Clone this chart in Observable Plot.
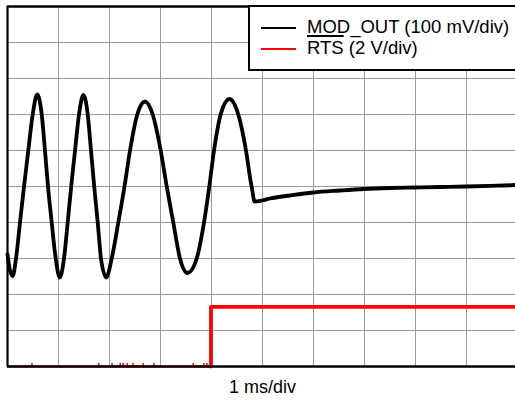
<!DOCTYPE html>
<html>
<head>
<meta charset="utf-8">
<script src="https://cdn.jsdelivr.net/npm/d3@7"></script>
<script src="https://cdn.jsdelivr.net/npm/@observablehq/plot@0.6"></script>
<style>
  html, body { margin: 0; padding: 0; background: #fff; overflow: hidden; }
  #wrap { position: relative; width: 520px; height: 400px; font-family: "Liberation Sans", Arial, sans-serif; }
  #wrap svg { display: block; position: absolute; left: 0; top: 0; }
  #legend { position: absolute; left: 248px; top: 5px; width: 300px; height: 66px; box-sizing: border-box;
            border: 2px solid #000; background: #fff; }
  .swatch { position: absolute; left: 11px; width: 35px; height: 2px; }
  .ltext { position: absolute; left: 57px; font-size: 18.5px; line-height: 18.5px; white-space: nowrap; color: #000; }
  .over { text-decoration: overline; text-decoration-thickness: 2px; }
  #xlabel { position: absolute; left: 0; width: 525px; top: 377.8px; text-align: center; font-size: 18px; line-height: 18px; color: #000; }
</style>
</head>
<body>
<div id="wrap"></div>
<script>
// Grid divisions (10 x 10 oscilloscope screen)
const gridDivs = [0, 1, 2, 3, 4, 5, 6, 7, 8, 9, 10];

// MOD_OUT trace: time (divisions, 1 ms/div) and level (divisions)
const modTimes = [
  0, 0.049, 0.102, 0.167, 0.245, 0.324, 0.408, 0.494, 0.584, 0.671, 0.735, 0.794, 0.867, 0.945,
  1.025, 1.108, 1.180, 1.249, 1.324, 1.402, 1.486, 1.573, 1.637, 1.700, 1.769, 1.833, 1.937,
  2.043, 2.173, 2.294, 2.402, 2.545, 2.696, 2.847, 3.004, 3.122, 3.251, 3.382, 3.529,
  3.710, 3.853, 3.957, 4.049, 4.180, 4.353, 4.525, 4.676, 4.765, 4.800, 4.843,
  4.990, 5.147, 5.539, 5.990, 6.520, 6.990, 7.500, 7.990, 8.480, 8.990, 9.461, 9.951, 10
];
const modLevels = [
  3.111, 2.667, 2.514, 3.0, 4.0, 5.0, 6.0, 7.0, 7.556, 7.0, 6.0, 5.0, 4.0, 3.0,
  2.472, 3.0, 4.0, 5.0, 6.0, 7.0, 7.542, 7.0, 6.0, 5.0, 4.0, 3.0, 2.472,
  3.0, 4.0, 5.0, 6.0, 7.0, 7.361, 7.0, 6.0, 5.0, 4.0, 3.0, 2.597,
  3.0, 4.0, 5.0, 6.0, 7.0, 7.431, 7.0, 6.0, 5.167, 4.889, 4.583,
  4.611, 4.667, 4.750, 4.833, 4.889, 4.931, 4.958, 4.972, 4.986, 5.0, 5.019, 5.042, 5.047
];

// RTS trace (active low), level in divisions
const rtsTimes = [0, 3.99, 3.99, 10];
const rtsLevels = [0, 0, 1.658, 1.658];
// small glitches seen on the low RTS level
const rtsGlitchTimes = [0.48, 1.79, 2.05, 2.21, 2.27, 2.35, 2.46, 2.66, 2.87, 3.64, 3.85, 3.91];

const legendEntries = [
  {label: "MOD_OUT (100 mV/div)", bar: "", color: "#000000"},
  {label: " (2 V/div)", bar: "RTS", color: "#ff0000"}
];
const xLabel = "1 ms/div";

const mod = modTimes.map((t, i) => ({t, v: modLevels[i]}));
const rts = rtsTimes.map((t, i) => ({t, v: rtsLevels[i]}));
const rtsLow = rts.slice(0, 2);   // low part, hidden under the axis line
const rtsHigh = rts.slice(1);     // rising edge and high part

const chart = Plot.plot({
  width: 520,
  height: 370,
  marginLeft: 7,
  marginRight: 3,
  marginTop: 6,
  marginBottom: 4,
  style: {background: "#fff", overflow: "hidden"},
  x: {domain: [0, 10], axis: null},
  y: {domain: [0, 10], axis: null},
  marks: [
    Plot.ruleX(gridDivs, {stroke: "#9a9a9a", strokeWidth: 1}),
    Plot.ruleY(gridDivs, {stroke: "#9a9a9a", strokeWidth: 1}),
    Plot.ruleX(rtsGlitchTimes, {y1: 0, y2: 0.08, stroke: "#ff0000", strokeWidth: 1.5}),
    Plot.line(rtsLow, {x: "t", y: "v", stroke: "#ff0000", strokeWidth: 2}),
    Plot.line(rtsHigh, {x: "t", y: "v", stroke: "#ff0000", strokeWidth: 3.8, curve: "linear"}),
    Plot.line(mod, {x: "t", y: "v", stroke: "#000", strokeWidth: 3.8, curve: "monotone-x", strokeLinejoin: "round"}),
    Plot.ruleY([0], {stroke: "#000", strokeWidth: 2.5}),
    Plot.ruleY([10], {stroke: "#000", strokeWidth: 2.5}),
    Plot.ruleX([0], {stroke: "#000", strokeWidth: 2.2})
  ]
});

const wrap = document.getElementById("wrap");
wrap.appendChild(chart);

const legend = document.createElement("div");
legend.id = "legend";
legendEntries.forEach((e, i) => {
  const sw = document.createElement("div");
  sw.className = "swatch";
  sw.style.background = e.color;
  sw.style.top = (i === 0 ? 19.7 : 41.3) + "px";
  legend.appendChild(sw);
  const tx = document.createElement("div");
  tx.className = "ltext";
  tx.style.top = (i === 0 ? 11.3 : 32.3) + "px";
  if (e.bar) {
    const b = document.createElement("span");
    b.className = "over";
    b.textContent = e.bar;
    tx.appendChild(b);
  }
  tx.appendChild(document.createTextNode(e.label));
  legend.appendChild(tx);
});
wrap.appendChild(legend);

const xl = document.createElement("div");
xl.id = "xlabel";
xl.textContent = xLabel;
wrap.appendChild(xl);
</script>
</body>
</html>
